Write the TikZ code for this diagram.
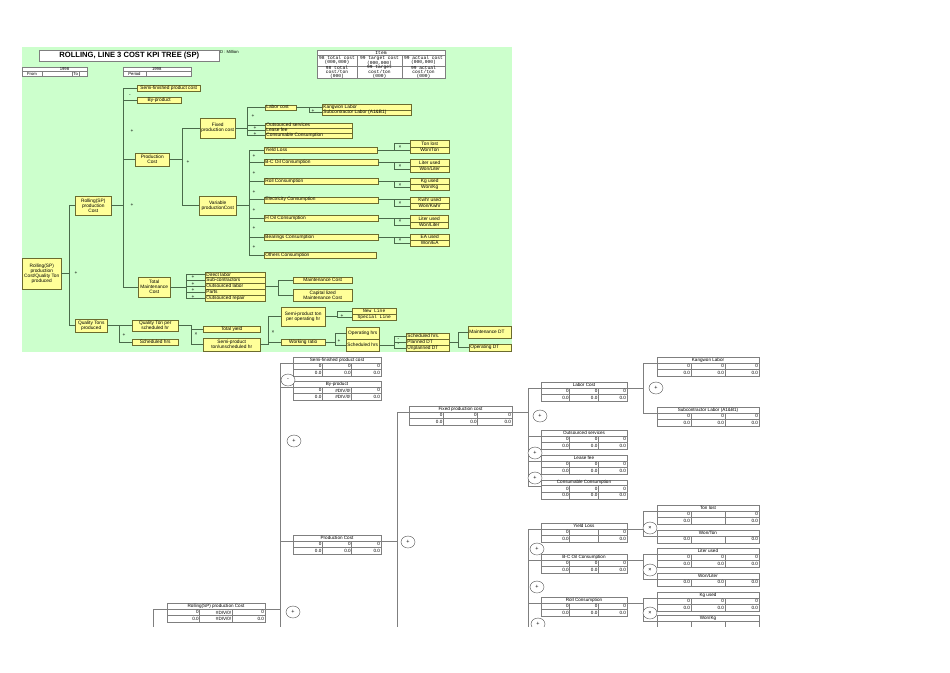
\documentclass[tikz,border=0pt]{standalone}
\usepackage{fontspec}
\setmainfont{Liberation Sans}
\newfontfamily\monof{Liberation Mono}
\usetikzlibrary{shapes.geometric,shadows}
\definecolor{grn}{HTML}{CCFFCC}
\definecolor{yel}{HTML}{FFFF99}
\definecolor{bxc}{HTML}{6B6B2E}
\definecolor{lnc}{HTML}{4A6A4A}
\definecolor{tbc}{HTML}{7F7F7F}
\newcommand\fsA{\fontsize{4.8}{5}\selectfont}
\newcommand\fsT{\fontsize{4.6}{5}\selectfont}
\newcommand\fsM{\monof\fontsize{4.6}{3.9}\selectfont}
\newcommand\fsS{\fontsize{4.2}{4.6}\selectfont}
\tikzset{
 ybox/.style={draw=bxc, fill=yel, line width=0.45pt, inner sep=0pt, align=center, font=\fsA,
   drop shadow={shadow xshift=0.6pt, shadow yshift=-0.6pt, fill=bxc, opacity=0.6}},
 ytext/.style={font=\fsA, inner sep=0pt, anchor=west},
 ln/.style={draw=lnc, line width=0.5pt},
 opr/.style={font=\fsA, inner sep=0pt},
 tframe/.style={draw=tbc, fill=white, line width=0.5pt, inner sep=0pt},
 tgrid/.style={draw=tbc, line width=0.4pt},
 ttxt/.style={font=\fsT, inner sep=0pt},
 tval/.style={font=\fsT, inner sep=0pt, anchor=east},
 tl/.style={draw=tbc, line width=0.5pt},
 opc/.style={ellipse, draw=black!70, fill=white, line width=0.4pt, minimum width=14pt, minimum height=12pt, inner sep=0pt, font=\fontsize{5.5}{6}\selectfont},
}
% centered yellow box: name x1 y1 x2 y2 text
\newcommand\YB[6]{\pgfmathsetmacro\ybw{#4-#2}\pgfmathsetmacro\ybh{#5-#3}%
 \node[ybox, anchor=north west, minimum width=\ybw pt, minimum height=\ybh pt] (#1) at (#2,#3) {#6};}
% left aligned yellow box
\newcommand\YL[6]{\pgfmathsetmacro\ybw{#4-#2}\pgfmathsetmacro\ybh{#5-#3}%
 \node[ybox, anchor=north west, minimum width=\ybw pt, minimum height=\ybh pt] (#1) at (#2,#3) {};
 \node[ytext] (#1-x) at ([xshift=1.2pt]#1.west) {#6};}
% white table: name x1 y1 x2 title nrows
\newcommand\TB[6]{%
 \pgfmathsetmacro\qqA{#2+(#4-#2)/3}%
 \pgfmathsetmacro\qqB{#2+2*(#4-#2)/3}%
 \pgfmathsetmacro\qqW{#4-#2}%
 \pgfmathsetmacro\qqH{6+6.5*#6}%
 \pgfmathsetmacro\qyA{#3+6}%
 \pgfmathsetmacro\qyB{#3+12.5}%
 \pgfmathsetmacro\qyE{#3+\qqH}%
 \pgfmathsetmacro\qyT{#3+3.1}%
 \pgfmathsetmacro\qyL{#3+6.5}%
 \pgfmathsetmacro\qxM{(#2+#4)/2}%
 \node[tframe, anchor=north west, minimum width=\qqW pt, minimum height=\qqH pt] (#1) at (#2,#3) {};
 \draw[tgrid] (#2,\qyA) -- (#4,\qyA) (\qqA,\qyA) -- (\qqA,\qyE) (\qqB,\qyA) -- (\qqB,\qyE);
 \ifnum#6>1 \draw[tgrid] (#2,\qyB) -- (#4,\qyB);\fi
 \node[ttxt] (#1-t) at (\qxM,\qyT) {#5};
 \coordinate (#1L) at (#2,\qyL);
 \coordinate (#1R) at (#4,\qyL);
}
% table values: x1 y1 x2 row a b c
\newcommand\TV[7]{%
 \pgfmathsetmacro\qqA{#1+(#3-#1)/3}%
 \pgfmathsetmacro\qqB{#1+2*(#3-#1)/3}%
 \pgfmathsetmacro\qvY{#2+6+6.5*#4-3.1}%
 \node[tval] at (\qqA-0.8,\qvY) {#5};
 \node[tval] at (\qqB-0.8,\qvY) {#6};
 \node[tval] at (#3-0.8,\qvY) {#7};
}
\begin{document}
\begin{tikzpicture}[x=1pt,y=-1pt]
\useasboundingbox (0,0) rectangle (950,672);
\fill[white] (0,0) rectangle (950,672);
\fill[grn] (22,47) rectangle (512,352);

% ---------- header ----------
\node[draw=tbc, fill=white, line width=0.5pt, minimum width=180pt, minimum height=11pt, anchor=north west,
  font=\fontsize{7.6}{8}\selectfont\bfseries, inner sep=0pt] (title) at (39,50) {ROLLING, LINE 3 COST KPI TREE (SP)};
\node[anchor=west, font=\fsS, inner sep=0pt] (unit) at (220,51.5) {D : Million};

\node[tframe, anchor=north west, minimum width=65pt, minimum height=9pt] (d1) at (22,67) {};
\draw[tgrid] (22,71.5) -- (87,71.5) (42,71.5) -- (42,76) (72,71.5) -- (72,76) (79.5,71.5) -- (79.5,76);
\node[font=\fsS, inner sep=0pt] (d1y) at (64.5,69.4) {1998};
\node[font=\fsS, inner sep=0pt] (d1f) at (32,73.9) {From};
\node[font=\fsS, inner sep=0pt] (d1t) at (75.7,73.9) {To};

\node[tframe, anchor=north west, minimum width=68pt, minimum height=9pt] (d2) at (123,67) {};
\draw[tgrid] (123,71.5) -- (191,71.5) (146,71.5) -- (146,76);
\node[font=\fsS, inner sep=0pt] (d2y) at (156.7,69.4) {1998};
\node[font=\fsS, inner sep=0pt] (d2p) at (134.5,73.9) {Period};

\node[tframe, anchor=north west, minimum width=128pt, minimum height=28pt] (item) at (317,50) {};
\draw[tgrid] (317,55) -- (445,55) (317,66) -- (445,66) (357,55) -- (357,78) (402,55) -- (402,78);
\node[font=\fsM, inner sep=0pt] (it0) at (381,52.6) {Item};
\node[font=\fsM, inner sep=0pt, align=center] (it1) at (337,60.6) {98 total cost\\(000,000)};
\node[font=\fsM, inner sep=0pt, align=center] (it2) at (379.5,60.6) {99 target cost\\(000,000)};
\node[font=\fsM, inner sep=0pt, align=center] (it3) at (423.5,60.6) {99 actual cost\\(000,000)};
\node[font=\fsM, inner sep=0pt, align=center] (it4) at (337,72.2) {98 total\\cost/ton\\(000)};
\node[font=\fsM, inner sep=0pt, align=center] (it5) at (379.5,72.2) {99 target\\cost/ton\\(000)};
\node[font=\fsM, inner sep=0pt, align=center] (it6) at (423.5,72.2) {99 actual\\cost/ton\\(000)};

% ---------- yellow boxes ----------
\YB{R0}{22}{258}{61}{289}{Rolling(SP)\\production\\Cost/Quality Ton\\produced}
\YB{R1}{75}{196}{111}{215}{Rolling(SP)\\production\\Cost}
\YB{Q1}{75}{319}{107}{332}{Quality Tons\\produced}
\YB{SF}{137}{85}{200}{90.5}{Semi-finished product cost}
\YB{BP}{137}{97}{181}{103}{By-product}
\YB{P1}{135}{153}{169}{166}{Production\\Cost}
\YB{TM}{138}{277}{170}{297}{Total\\Maintenance\\Cost}
\YB{FX}{200}{118}{235}{138}{Fixed\\production cost}
\YB{VR}{199}{196}{236}{215}{Variable\\productionCost}

\YL{LC}{265}{104.5}{296}{109.5}{Labor cost}
\YL{KL}{322}{104}{411}{109.5}{Kangwon Labor}
\YL{SL}{322}{109.5}{411}{115}{Subcontractor Labor (A1\&B1)}
\YL{OS}{265}{122.5}{352}{127.5}{Outsourced services}
\YL{LF}{265}{127.5}{352}{132.5}{Lease fee}
\YL{CC}{265}{132.5}{352}{138}{Consumable Consumption}

\YL{YL}{264}{147}{377}{153}{Yield Loss}
\YL{BC}{264}{159}{378}{165}{B-C Oil Consumption}
\YL{RC}{264}{178}{378}{184}{Roll Consumption}
\YL{EC}{264}{196.5}{378}{202.5}{Electricity Consumption}
\YL{HO}{264}{215}{378}{221}{H Oil Consumption}
\YL{BR}{264}{234}{378}{240}{Bearings Consumption}
\YL{OC}{264}{252}{376}{258}{Others Consumption}

\YB{TL}{410}{140}{449}{146.5}{Ton lost}
\YB{WT}{410}{146.5}{449}{153}{Won/Ton}
\YB{LU1}{410}{159}{449}{165.5}{Liter used}
\YB{WL1}{410}{165.5}{449}{172}{Won/Liter}
\YB{KG}{410}{178}{449}{184}{Kg used}
\YB{WK}{410}{184}{449}{190}{Won/Kg}
\YB{KW}{410}{196.5}{449}{202.5}{Kwhr used}
\YB{WKW}{410}{202.5}{449}{209}{Won/Kwhr}
\YB{LU2}{410}{215}{448}{221.5}{Liter used}
\YB{WL2}{410}{221.5}{448}{228}{Won/Liter}
\YB{EA}{410}{234}{449}{240}{EA used}
\YB{WEA}{410}{240}{449}{246}{Won/EA}

\YL{DL}{205}{271.5}{265}{277}{Direct labor}
\YL{SC}{205}{277}{265}{283}{Sub-contractors}
\YL{OL}{205}{283}{265}{289}{Outsourced labor}
\YL{PT}{205}{289}{265}{295}{Parts}
\YL{OR}{205}{295}{265}{301}{Outsourced repair}
\YB{MC}{293}{277}{352}{283}{Maintenance Cost}
\YB{CM}{293}{289}{352}{301}{Capital lized\\Maintenance Cost}

\YB{QS}{132}{320}{178}{331}{Quality Ton per\\scheduled hr}
\YB{SH}{132}{339}{178}{344.5}{Scheduled hrs}
\YB{TY}{203}{326}{260}{332}{Total yield}
\YB{SU}{203}{338}{260}{351}{Semi-product\\ton/unscheduled hr}
\YB{ST}{281}{307}{325}{326}{Semi-product ton\\per operating hr}
\node[ybox, font=\monof\fontsize{4.6}{5}\selectfont, anchor=north west, minimum width=44pt, minimum height=6pt] (NL) at (352,308) {New Line};
\node[ybox, font=\monof\fontsize{4.6}{5}\selectfont, anchor=north west, minimum width=44pt, minimum height=6pt] (SPL) at (352,314) {Special Line};
\YB{WR}{281}{339}{325}{344.5}{Working ratio}
\YB{OH}{346}{327}{379}{339}{Operating hrs}
\YB{SH2}{346}{339}{379}{351}{Scheduled hrs}
\YL{SH3}{406}{333}{449}{339}{Scheduled hrs.}
\YL{PD}{406}{339}{449}{345}{Planned DT}
\YL{UD}{406}{345}{449}{351}{Unplanned DT}
\YL{MD}{468}{326}{511}{338}{Maintenance DT}
\YL{OD}{469}{344}{511}{351}{Operating DT}

% ---------- green connectors ----------
\coordinate (bR0) at (69,0);
\coordinate (bR1) at (123,0);
\coordinate (bP1) at (182,0);
\coordinate (bFX) at (247,0);
\coordinate (bLC) at (309,0);
\coordinate (bVR) at (249,0);
\coordinate (bG) at (394,0);
\coordinate (bTM) at (186,0);
\coordinate (bMC) at (278,0);
\coordinate (bQ1) at (119,0);
\coordinate (bQS) at (191,0);
\coordinate (bSU) at (268,0);
\coordinate (bST) at (337,0);
\coordinate (bWR) at (335,0);
\coordinate (bSH) at (394,0);
\coordinate (bPD) at (458,0);

\draw[ln] (R0.east) -- (R0.east -| bR0);
\draw[ln] (R1.west) -- (R1.west -| bR0) |- (Q1.west);
\draw[ln] (R1.east) -- (R1.east -| bR1);
\draw[ln] (SF.west) -- (SF.west -| bR1) |- (TM.west);
\draw[ln] (BP.west) -- (BP.west -| bR1);
\draw[ln] (P1.west) -- (P1.west -| bR1);
\draw[ln] (P1.east) -- (P1.east -| bP1);
\draw[ln] (FX.west) -- (FX.west -| bP1) |- (VR.west);
\draw[ln] (FX.east) -- (FX.east -| bFX);
\draw[ln] (LC.west) -- (LC.west -| bFX) |- (CC.west);
\draw[ln] (OS.west) -- (OS.west -| bFX);
\draw[ln] (LF.west) -- (LF.west -| bFX);
\draw[ln] (LC.east) -- (LC.east -| KL.west);
\draw[ln] (LC.east -| bLC) |- (SL.west);
\draw[ln] (VR.east) -- (VR.east -| bVR);
\draw[ln] (YL.west) -- (YL.west -| bVR) |- (OC.west);
\foreach \n in {BC,RC,EC,HO,BR} { \draw[ln] (\n.west) -- (\n.west -| bVR); }
\foreach \p/\a/\b in {YL/TL/WT, BC/LU1/WL1, RC/KG/WK, EC/KW/WKW, HO/LU2/WL2, BR/EA/WEA} {
  \draw[ln] (\p.east) -- (\p.east -| bG);
  \draw[ln] (\a.west) -- (\a.west -| bG) |- (\b.west);
}
\draw[ln] (TM.east) -- (TM.east -| bTM);
\draw[ln] (DL.west) -- (DL.west -| bTM) |- (OR.west);
\foreach \n in {SC,OL,PT} { \draw[ln] (\n.west) -- (\n.west -| bTM); }
\draw[ln] (OL.east) -- (OL.east -| bMC);
\draw[ln] (MC.west) -- (MC.west -| bMC) |- (CM.west);
\draw[ln] (Q1.east) -- (Q1.east -| bQ1);
\draw[ln] (QS.west) -- (QS.west -| bQ1) |- (SH.west);
\draw[ln] (QS.east) -- (QS.east -| bQS) |- (SU.west);
\draw[ln] (TY.west) -- (TY.west -| bQS);
\draw[ln] (SU.east) -- (SU.east -| bSU) |- (ST.west);
\draw[ln] (WR.west) -- (WR.west -| bSU);
\draw[ln] (ST.east) -- (ST.east -| bST);
\draw[ln] (NL.west) -- (NL.west -| bST) |- (SPL.west);
\draw[ln] (WR.east) -- (WR.east -| bWR);
\draw[ln] (OH.west) -- (OH.west -| bWR) |- (SH2.west);
\draw[ln] (SH2.east) -- (SH2.east -| bSH);
\draw[ln] (SH3.west) -- (SH3.west -| bSH) |- (UD.west);
\draw[ln] (PD.west) -- (PD.west -| bSH);
\draw[ln] (PD.east) -- (PD.east -| bPD);
\draw[ln] (MD.west) -- (MD.west -| bPD) |- (OD.west);

% operators (green part)
\node[opr] (m1) at (130,95.5) {-};
\node[opr] (m2) at (132,131) {+};
\node[opr] (m3) at (132,205) {+};
\node[opr] (m4) at (76,273) {+};
\node[opr] (m5) at (188,162) {+};
\node[opr] (m6) at (253,116) {+};
\node[opr] (m7) at (255,128) {+};
\node[opr] (m8) at (255,134) {+};
\node[opr] (m9) at (313,111) {+};
\foreach \y [count=\i] in {156,173.3,191.7,210,228.3,247.3} { \node[opr] (va\i) at (254,\y) {+}; }
\foreach \y [count=\i] in {147.5,166,185,203.5,221.5,240.5} { \node[opr] (vx\i) at (400,\y) {×}; }
\foreach \y [count=\i] in {277.3,284,290,296.7} { \node[opr] (mt\i) at (193,\y) {+}; }
\node[opr] (q1) at (124,335) {+};
\node[opr] (q2) at (196,334) {×};
\node[opr] (q3) at (273,332) {×};
\node[opr] (q4) at (342,316) {+};
\node[opr] (q5) at (339,341) {+};
\node[opr] (q6) at (398.3,339.3) {-};
\node[opr] (q7) at (398.3,345) {-};

% ---------- lower part (tables) ----------
\begin{scope}
\clip (0,352) rectangle (950,626);
\coordinate (c0) at (153,0);
\coordinate (c1) at (280,0);
\coordinate (c2) at (397,0);
\coordinate (c3) at (528,0);
\coordinate (c4) at (643,0);
\coordinate (bot) at (0,640);

\TB{SFt}{293}{357}{381}{Semi-finished product cost}{2}
\TV{293}{357}{381}{1}{0}{0}{0}
\TV{293}{357}{381}{2}{0.0}{0.0}{0.0}
\TB{BPt}{293}{381}{381}{By-product}{2}
\TV{293}{381}{381}{1}{0}{\#DIV/0!}{0}
\TV{293}{381}{381}{2}{0.0}{\#DIV/0!}{0.0}
\TB{PCt}{293}{535}{381}{Production Cost}{2}
\TV{293}{535}{381}{1}{0}{0}{0}
\TV{293}{535}{381}{2}{0.0}{0.0}{0.0}
\TB{RPt}{167}{603}{265}{Rolling(SP) production Cost}{2}
\TV{167}{603}{265}{1}{0}{\#DIV/0!}{0}
\TV{167}{603}{265}{2}{0.0}{\#DIV/0!}{0.0}
\TB{FXt}{409}{406}{512}{Fixed production cost}{2}
\TV{409}{406}{512}{1}{0}{0}{0}
\TV{409}{406}{512}{2}{0.0}{0.0}{0.0}
\TB{LCt}{541}{382}{627}{Labor Cost}{2}
\TV{541}{382}{627}{1}{0}{0}{0}
\TV{541}{382}{627}{2}{0.0}{0.0}{0.0}
\TB{OSt}{541}{430}{627}{Outsourced services}{2}
\TV{541}{430}{627}{1}{0}{0}{0}
\TV{541}{430}{627}{2}{0.0}{0.0}{0.0}
\TB{LFt}{541}{455}{627}{Lease fee}{2}
\TV{541}{455}{627}{1}{0}{0}{0}
\TV{541}{455}{627}{2}{0.0}{0.0}{0.0}
\TB{CCt}{541}{479.5}{627}{Consumable Consumption}{2}
\TV{541}{479.5}{627}{1}{0}{0}{0}
\TV{541}{479.5}{627}{2}{0.0}{0.0}{0.0}
\TB{KLt}{657}{357}{759}{Kangwon Labor}{2}
\TV{657}{357}{759}{1}{0}{0}{0}
\TV{657}{357}{759}{2}{0.0}{0.0}{0.0}
\TB{SLt}{657}{407}{759}{Subcontractor Labor (A1\&B1)}{2}
\TV{657}{407}{759}{1}{0}{0}{0}
\TV{657}{407}{759}{2}{0.0}{0.0}{0.0}
\TB{YLt}{541}{523}{627}{Yield Loss}{2}
\TV{541}{523}{627}{1}{0}{}{0}
\TV{541}{523}{627}{2}{0.0}{}{0.0}
\TB{BCt}{541}{554}{627}{B-C Oil Consumption}{2}
\TV{541}{554}{627}{1}{0}{0}{0}
\TV{541}{554}{627}{2}{0.0}{0.0}{0.0}
\TB{RCt}{541}{597}{627}{Roll Consumption}{2}
\TV{541}{597}{627}{1}{0}{0}{0}
\TV{541}{597}{627}{2}{0.0}{0.0}{0.0}
\TB{TLt}{657}{505}{759}{Ton lost}{2}
\TV{657}{505}{759}{1}{0}{}{0}
\TV{657}{505}{759}{2}{0.0}{}{0.0}
\TB{WTt}{657}{530}{759}{Won/Ton}{1}
\TV{657}{530}{759}{1}{0.0}{}{0.0}
\TB{LUt}{657}{548}{759}{Liter used}{2}
\TV{657}{548}{759}{1}{0}{0}{0}
\TV{657}{548}{759}{2}{0.0}{0.0}{0.0}
\TB{WLt}{657}{573}{759}{Won/Liter}{1}
\TV{657}{573}{759}{1}{0.0}{0.0}{0.0}
\TB{KGt}{657}{592}{759}{Kg used}{2}
\TV{657}{592}{759}{1}{0}{0}{0}
\TV{657}{592}{759}{2}{0.0}{0.0}{0.0}
\TB{WKt}{657}{615}{759}{Won/Kg}{1}

% connectors
\draw[tl] (SFtL) -- (SFtL -| c1) -- (c1 |- bot);
\draw[tl] (BPtL) -- (BPtL -| c1);
\draw[tl] (PCtL) -- (PCtL -| c1);
\draw[tl] (RPtR) -- (RPtR -| c1);
\draw[tl] (RPtL) -- (RPtL -| c0) -- (c0 |- bot);
\draw[tl] (PCtR) -- (PCtR -| c2);
\draw[tl] (FXtL) -- (FXtL -| c2) -- (c2 |- bot);
\draw[tl] (FXtR) -- (FXtR -| c3);
\draw[tl] (LCtL) -- (LCtL -| c3) |- (CCtL);
\draw[tl] (OStL) -- (OStL -| c3);
\draw[tl] (LFtL) -- (LFtL -| c3);
\draw[tl] (LCtR) -- (LCtR -| c4);
\draw[tl] (KLtL) -- (KLtL -| c4) |- (SLtL);
\draw[tl] (YLtL) -- (YLtL -| c3) -- (c3 |- bot);
\draw[tl] (BCtL) -- (BCtL -| c3);
\draw[tl] (RCtL) -- (RCtL -| c3);
\draw[tl] (YLtR) -- (YLtR -| c4);
\draw[tl] (TLtL) -- (TLtL -| c4) |- (WTtL);
\draw[tl] (BCtR) -- (BCtR -| c4);
\draw[tl] (LUtL) -- (LUtL -| c4) |- (WLtL);
\draw[tl] (RCtR) -- (RCtR -| c4);
\draw[tl] (KGtL) -- (KGtL -| c4) |- (WKtL);

% operator circles
\node[opc] (o1) at (288,380) {-};
\node[opc] (o2) at (294,441) {+};
\node[opc] (o3) at (408,542) {+};
\node[opc] (o4) at (293,612) {+};
\node[opc] (o5) at (540,416) {+};
\node[opc] (o6) at (535,453) {+};
\node[opc] (o7) at (535,478) {+};
\node[opc] (o8) at (656,388) {+};
\node[opc] (o9) at (537,549) {+};
\node[opc] (o10) at (537,587) {+};
\node[opc] (o11) at (538,624) {+};
\node[opc] (o12) at (650,528) {×};
\node[opc] (o13) at (650,570) {×};
\node[opc] (o14) at (650,613) {×};
\end{scope}
\end{tikzpicture}
\end{document}
